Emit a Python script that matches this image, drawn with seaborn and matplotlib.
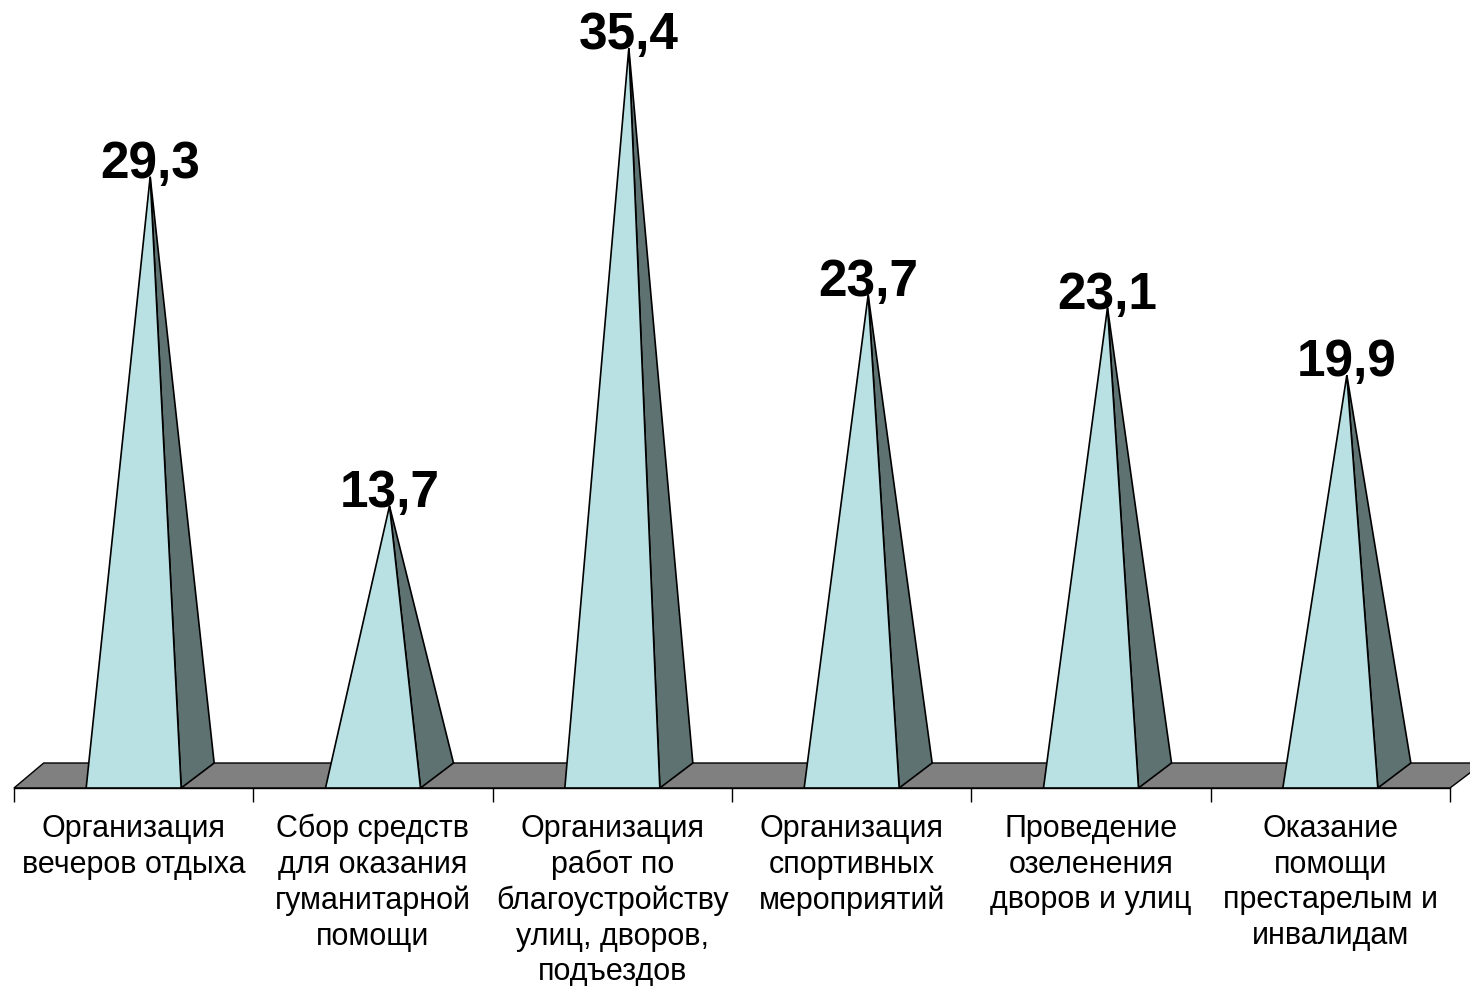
import matplotlib
matplotlib.use("Agg")
import matplotlib.pyplot as plt
import seaborn as sns
import numpy as np

categories = [
    "Организация\nвечеров отдыха",
    "Сбор средств\nдля оказания\nгуманитарной\nпомощи",
    "Организация\nработ по\nблагоустройству\nулиц, дворов,\nподъездов",
    "Организация\nспортивных\nмероприятий",
    "Проведение\nозеленения\nдворов и улиц",
    "Оказание\nпомощи\nпрестарелым и\nинвалидам",
]
values = [29.3, 13.7, 35.4, 23.7, 23.1, 19.9]

sns.set_theme(style="white")
plt.rcParams["font.family"] = ["Liberation Sans", "DejaVu Sans"]

W, H = 1470, 987
fig = plt.figure(figsize=(W / 100, H / 100), dpi=100)

# layout (pixels)
x_left_px, x_right_px = 14, 1450
zero_px = 796
px_per_unit = 21.1
ax = fig.add_axes([x_left_px / W, (H - zero_px) / H,
                   (x_right_px - x_left_px) / W, zero_px / H])
n = len(categories)
ax.set_xlim(-0.5, n - 0.5)
ax.set_ylim(0, zero_px / px_per_unit)
cat_px = (x_right_px - x_left_px) / n

floor_front = (zero_px - 789) / px_per_unit
dx = 33 / cat_px
dy = 25 / px_per_unit
half_w = 47.5 / cat_px

front_col = "#B9E0E3"
side_col = "#5E7272"
floor_col = "#808080"

# floor
fx = [-0.5, n - 0.5, n - 0.5 + dx, -0.5 + dx * 0.9]
fy = [floor_front, floor_front, floor_front + dy, floor_front + dy]
ax.fill(fx, fy, facecolor=floor_col, edgecolor="black", lw=1.0, zorder=1, clip_on=False)

for i, v in enumerate(values):
    ax_x = i + dx / 2
    # front face
    ax.fill([i - half_w, i + half_w, ax_x], [floor_front, floor_front, v],
            facecolor=front_col, edgecolor="black", lw=1.2, zorder=3, joinstyle="miter")
    # side face
    ax.fill([i + half_w, i + half_w + dx, ax_x], [floor_front, floor_front + dy, v],
            facecolor=side_col, edgecolor="black", lw=1.2, zorder=2, joinstyle="miter")
    ax.text(ax_x, v, f"{v:.1f}".replace(".", ","), ha="center", va="baseline",
            fontsize=37, fontweight="bold", color="black", zorder=5,
            family=["Liberation Sans", "DejaVu Sans"])

# axis
for s in ["left", "right", "top"]:
    ax.spines[s].set_visible(False)
ax.spines["bottom"].set_position(("data", floor_front))
ax.spines["bottom"].set_color("black")
ax.spines["bottom"].set_linewidth(1.0)
ax.set_yticks([])
ax.set_xticks(np.arange(n))
ax.set_xticklabels(categories)
ax.set_xticks(np.arange(n + 1) - 0.5, minor=True)
ax.tick_params(axis="x", which="major", length=0, pad=18, labelsize=22, colors="black")
ax.tick_params(axis="x", which="minor", length=10, width=1.0, color="black", direction="out", bottom=True)
for t in ax.get_xticklabels():
    t.set_multialignment("center")
    t.set_linespacing(1.24)

fig.savefig("out.png", dpi=100, facecolor="white")
